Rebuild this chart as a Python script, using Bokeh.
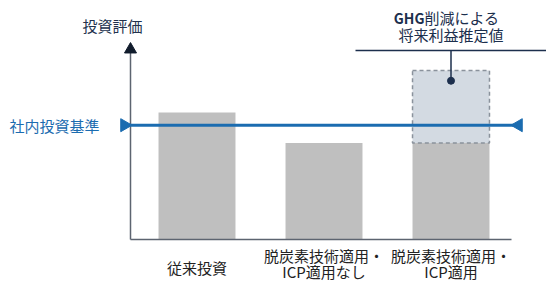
from bokeh.plotting import figure
from bokeh.models import Range1d
from bokeh.core.properties import value
from bokeh.embed import file_html
from bokeh.resources import INLINE
import math

# ---- data ----
categories = [["従来投資"], ["脱炭素技術適用・", "ICP適用なし"], ["脱炭素技術適用・", "ICP適用"]]
cat_pos = [1, 2, 3]
base_values = [100, 76, 76]
benefit_values = [0, 0, 57]
benchmark = 90
axis_title = "投資評価"
benchmark_label = "社内投資基準"
annot_bold = "GHG"
annot_line1 = "削減による"
annot_line2 = "将来利益推定値"

# ---- layout ----
W, H = 546, 281
OFF = 0
PXX = 127.0   # px per category
PXY = 1.27    # px per value unit
XS = 1 - (196.5 - OFF) / PXX
XE = XS + W / PXX
YS = -(OFF + H - 239) / PXY
YE = YS + H / PXY
FONT = value("Noto Sans CJK JP")
FS = "15px"


def dx(px):
    return XS + (px - OFF) / W * (XE - XS)


def dy(py):
    return YE - (py - OFF) / H * (YE - YS)


p = figure(width=W, height=H, x_range=Range1d(XS, XE), y_range=Range1d(YS, YE),
           output_backend="svg", toolbar_location=None, min_border=0)
p.axis.visible = False
p.grid.visible = False
p.outline_line_color = None
p.background_fill_color = "white"

bar_w = 0.606
# base bars
p.vbar(x=cat_pos, width=bar_w, top=base_values, bottom=0,
       fill_color="#bfbfbf", line_color=None)

# benefit box (dashed)
bx = [c for c, b in zip(cat_pos, benefit_values) if b > 0]
bb = [v for v, b in zip(base_values, benefit_values) if b > 0]
bt = [v + b for v, b in zip(base_values, benefit_values) if b > 0]
p.quad(left=[c - bar_w / 2 for c in bx], right=[c + bar_w / 2 for c in bx],
       bottom=bb, top=bt, fill_color="#d3dae2", line_color="#8a929c",
       line_width=1.5, line_dash="4 3")

# axes
ax_x = dx(130)
p.segment(x0=[ax_x], y0=[0], x1=[ax_x], y1=[dy(52)], line_color="#5d6470", line_width=1.5)
p.segment(x0=[ax_x], y0=[0], x1=[dx(511)], y1=[0], line_color="#5d6470", line_width=1.5)
p.scatter(x=[ax_x], y=[dy(49)], marker="triangle", size=12,
          fill_color="#111c2c", line_color="#111c2c")

# benchmark line
blue = "#1b6cb0"
p.segment(x0=[dx(124)], y0=[benchmark], x1=[dx(518)], y1=[benchmark],
          line_color=blue, line_width=3)
p.scatter(x=[dx(124)], y=[benchmark], marker="triangle", size=13, angle=-math.pi / 2,
          fill_color=blue, line_color=blue)
p.scatter(x=[dx(518)], y=[benchmark], marker="triangle", size=13, angle=math.pi / 2,
          fill_color=blue, line_color=blue)

# annotation leader
acx = bx[0]
top3 = bt[0]
dot_y = top3 - 8
p.segment(x0=[dx(355)], y0=[dy(50)], x1=[dx(546)], y1=[dy(50)],
          line_color="#1c2f4d", line_width=1.5)
p.segment(x0=[acx], y0=[dot_y], x1=[acx], y1=[dy(50)],
          line_color="#1c2f4d", line_width=1.5)
p.scatter(x=[acx], y=[dot_y], marker="circle", size=7,
          fill_color="#1c2f4d", line_color="#1c2f4d")

# texts
p.text(x=[dx(424)], y=[dy(17)], text=[annot_bold], text_font=FONT, text_font_size="14px",
       text_font_style="bold", text_align="right", text_baseline="middle", text_color="#1c2f4d")
p.text(x=[dx(424)], y=[dy(17)], text=[annot_line1], text_font=FONT, text_font_size=FS,
       text_align="left", text_baseline="middle", text_color="#1c2f4d")
p.text(x=[acx], y=[dy(34)], text=[annot_line2], text_font=FONT, text_font_size=FS,
       text_align="center", text_baseline="middle", text_color="#1c2f4d")

p.text(x=[dx(112)], y=[dy(25)], text=[axis_title], text_font=FONT, text_font_size=FS,
       text_align="center", text_baseline="middle", text_color="#22324d")
p.text(x=[dx(9)], y=[benchmark], text=[benchmark_label], text_font=FONT, text_font_size=FS,
       text_align="left", text_baseline="middle", text_color=blue)

for c, lines in zip(cat_pos, categories):
    if len(lines) == 1:
        offs = [267 - 239]
    else:
        offs = [255 - 239, 271 - 239]
    for ln, off in zip(lines, offs):
        p.text(x=[c], y=[0], y_offset=off, text=[ln], text_font=FONT, text_font_size=FS,
               text_align="center", text_baseline="middle", text_color="#222222")

open("out.html", "w").write(file_html(p, INLINE))
